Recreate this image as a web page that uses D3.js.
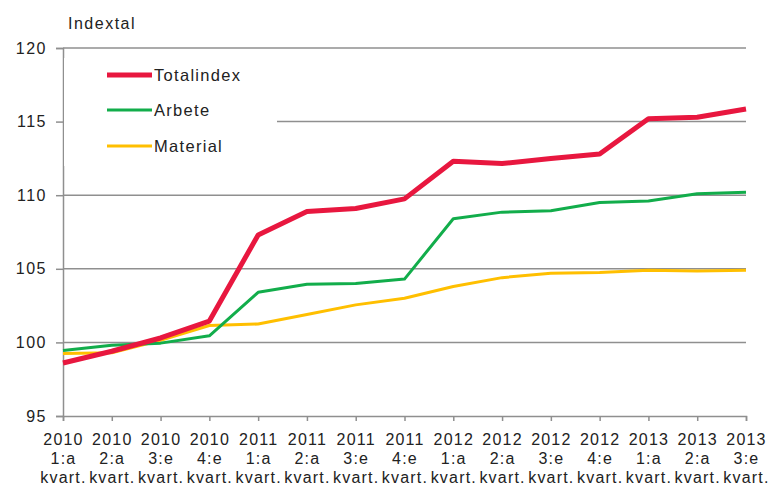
<!DOCTYPE html>
<html>
<head>
<meta charset="utf-8">
<script src="https://cdn.jsdelivr.net/npm/d3@7"></script>
<style>
  body { margin: 0; background: #fff; }
  text { font-family: "Liberation Sans", Arial, sans-serif; fill: #222; }
</style>
</head>
<body>
<div id="chart"></div>
<script>
// quarters, shown as year / quarter / "kvart."
var quarters = ["2010 1:a kvart.", "2010 2:a kvart.", "2010 3:e kvart.", "2010 4:e kvart.",
                "2011 1:a kvart.", "2011 2:a kvart.", "2011 3:e kvart.", "2011 4:e kvart.",
                "2012 1:a kvart.", "2012 2:a kvart.", "2012 3:e kvart.", "2012 4:e kvart.",
                "2013 1:a kvart.", "2013 2:a kvart.", "2013 3:e kvart."]

var totalindex = [98.6, 99.4, 100.3, 101.45, 107.3, 108.9, 109.1, 109.75, 112.3, 112.15, 112.5, 112.8, 115.2, 115.3, 115.85]
var arbete     = [99.45, 99.8, 99.95, 100.45, 103.4, 103.95, 104.0, 104.3, 108.4, 108.85, 108.95, 109.5, 109.6, 110.1, 110.2]
var material   = [99.25, 99.3, 100.15, 101.15, 101.25, 101.9, 102.55, 103.0, 103.8, 104.4, 104.7, 104.75, 104.9, 104.85, 104.9]

var yTicks = [95, 100, 105, 110, 115, 120]

var seriesNames = ["Totalindex", "Arbete", "Material"]
var colors = ["#e8173f", "#12ad4b", "#ffbf00"]
var widths = [5, 3, 3]

var width = 771
var height = 485
var margin = {left: 63, top: 48, right: 25, bottom: 69}

const svg = d3.select("#chart")
              .append("svg")
              .attr("width", width)
              .attr("height", height)

var xScale = d3.scalePoint()
               .domain(quarters)
               .range([margin.left, width - margin.right])

var yScale = d3.scaleLinear()
               .domain([95, 120])
               .range([height - margin.bottom, margin.top])

// grid lines
svg.append("g")
   .selectAll("line")
   .data(yTicks.slice(1))
   .enter()
   .append("line")
   .attr("x1", margin.left)
   .attr("x2", width - margin.right)
   .attr("y1", (d) => yScale(d))
   .attr("y2", (d) => yScale(d))
   .attr("stroke", "#8f8f8f")
   .attr("stroke-width", 1.5)

// y axis
var yAxis = d3.axisLeft(yScale).tickValues(yTicks).tickSize(7).tickPadding(9)
var yG = svg.append("g")
   .attr("transform", "translate(" + margin.left + ",0)")
   .call(yAxis)
yG.select(".domain").attr("stroke", "#8f8f8f").attr("stroke-width", 1.5)
yG.selectAll(".tick line").attr("stroke", "#8f8f8f").attr("stroke-width", 1.5)
yG.selectAll(".tick text")
  .style("font-size", "16px")
  .style("letter-spacing", "1.5px")
  .style("font-family", "Liberation Sans, Arial, sans-serif")
  .attr("fill", "#222")

// x axis
var xAxis = d3.axisBottom(xScale).tickSize(5).tickFormat("")
var xG = svg.append("g")
   .attr("transform", "translate(0," + (height - margin.bottom) + ")")
   .call(xAxis)
xG.select(".domain").attr("stroke", "#8f8f8f").attr("stroke-width", 1.5)
xG.selectAll(".tick line").attr("stroke", "#8f8f8f").attr("stroke-width", 1.5)

xG.selectAll(".tick")
  .append("text")
  .attr("text-anchor", "middle")
  .attr("fill", "#222")
  .style("font-size", "16px")
  .style("letter-spacing", "1.2px")
  .selectAll("tspan")
  .data((d) => d.split(" "))
  .enter()
  .append("tspan")
  .attr("x", 0)
  .attr("y", (d, i) => 29 + i * 19)
  .text((d) => d)

// legend background hides part of the grid
svg.append("rect")
   .attr("x", margin.left + 1)
   .attr("y", 58)
   .attr("width", 213)
   .attr("height", 108)
   .attr("fill", "#fff")

// series lines
var allSeries = [totalindex, arbete, material]
var line = d3.line()
             .x((d, i) => xScale(quarters[i]))
             .y((d) => yScale(d))

// draw material first so totalindex lies on top
svg.selectAll("seriesLines")
   .data([2, 1, 0])
   .enter()
   .append("path")
   .attr("d", (k) => line(allSeries[k]))
   .attr("fill", "none")
   .attr("stroke", (k) => colors[k])
   .attr("stroke-width", (k) => widths[k])
   .attr("stroke-linejoin", "round")

// legend
var legendY = [75, 110, 146]
svg.selectAll("legendLines")
   .data(seriesNames)
   .enter()
   .append("line")
   .attr("x1", 107)
   .attr("x2", 152)
   .attr("y1", (d, i) => legendY[i])
   .attr("y2", (d, i) => legendY[i])
   .attr("stroke", (d, i) => colors[i])
   .attr("stroke-width", (d, i) => widths[i])

svg.selectAll("legendTexts")
   .data(seriesNames)
   .enter()
   .append("text")
   .attr("x", 154)
   .attr("y", (d, i) => legendY[i] + 6)
   .style("font-size", "16.5px")
   .style("letter-spacing", "1.3px")
   .text((d) => d)

// axis title
svg.append("text")
   .attr("x", 68)
   .attr("y", 29)
   .style("font-size", "16px")
   .style("letter-spacing", "1.5px")
   .text("Indextal")
</script>
</body>
</html>
